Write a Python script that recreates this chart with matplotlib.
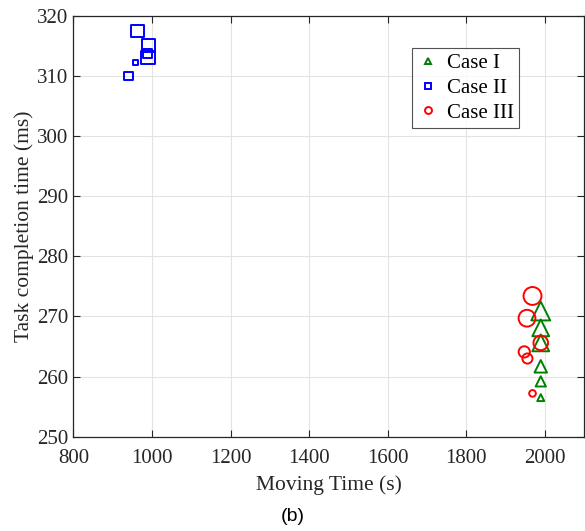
import numpy as np
import matplotlib.pyplot as plt
from matplotlib.lines import Line2D

# moving time (s), task completion time (ms), marker size (pt)
case1_x = [1990, 1990, 1990, 1990, 1990, 1990]
case1_y = [270.9, 268.1, 265.6, 261.7, 259.2, 256.5]
case1_ms = [13.6, 12.1, 12.1, 9.0, 7.4, 5.0]

case2_x = [963, 992, 989, 990, 958, 940]
case2_y = [317.5, 315.1, 313.7, 313.0, 312.2, 310.0]
case2_ms = [8.8, 9.4, 6.5, 9.6, 4.0, 5.9]

case3_x = [1969, 1955, 1990, 1948, 1956, 1969]
case3_y = [273.4, 269.7, 265.6, 264.1, 263.0, 257.2]
case3_ms = [12.9, 12.1, 10.5, 8.1, 7.3, 4.8]

xticks = [800, 1000, 1200, 1400, 1600, 1800, 2000]
yticks = [250, 260, 270, 280, 290, 300, 310, 320]

green = '#008000'
blue = '#0000ff'
red = '#ff0000'
dark = '#262626'

plt.rcParams['font.family'] = ['Liberation Serif', 'DejaVu Serif']

fig = plt.figure(figsize=(5.85, 5.31), dpi=100)
ax = fig.add_axes([0.1256, 0.1776, 0.8726, 0.7928])

lw = 1.4
ax.scatter(case1_x, case1_y, s=np.array(case1_ms)**2, marker='^',
           facecolors='none', edgecolors=green, linewidths=lw, zorder=3)
ax.scatter(case2_x, case2_y, s=np.array(case2_ms)**2, marker='s',
           facecolors='none', edgecolors=blue, linewidths=lw, zorder=3)
ax.scatter(case3_x, case3_y, s=np.array(case3_ms)**2, marker='o',
           facecolors='none', edgecolors=red, linewidths=lw, zorder=3)

ax.set_xlim(800, 2100)
ax.set_ylim(250, 320)
ax.set_xticks(xticks)
ax.set_yticks(yticks)
ax.grid(True, color='#e3e3e3', linewidth=0.8)
ax.set_axisbelow(True)
ax.tick_params(direction='in', top=True, right=True, length=5, width=0.8,
               colors=dark, labelsize=15)
ax.tick_params(axis='x', pad=9)
ax.tick_params(axis='y', pad=4)
for sp in ax.spines.values():
    sp.set_color(dark)
    sp.set_linewidth(0.9)

ax.set_xlabel('Moving Time (s)', fontsize=15.5, color=dark, labelpad=5)
ax.set_ylabel('Task completion time (ms)', fontsize=15.5, color=dark, labelpad=2)

handles = [
    Line2D([], [], ls='none', marker='^', ms=5, mfc='none', mec=green, mew=lw, label='Case I'),
    Line2D([], [], ls='none', marker='s', ms=4, mfc='none', mec=blue, mew=lw, label='Case II'),
    Line2D([], [], ls='none', marker='o', ms=5, mfc='none', mec=red, mew=lw, label='Case III'),
]
leg = ax.legend(handles=handles, loc='upper left', bbox_to_anchor=(0.6625, 0.9226),
                borderaxespad=0, fontsize=15, frameon=True, fancybox=False,
                handlelength=1.1, handletextpad=0.35, labelspacing=0.25,
                borderpad=0.25)
leg.get_frame().set_edgecolor(dark)
leg.get_frame().set_linewidth(0.8)
for t in leg.get_texts():
    t.set_color('black')

fig.text(0.5, 0.027, '(b)', ha='center', va='center', fontsize=14,
         family=['Liberation Sans', 'DejaVu Sans'])

fig.savefig('out.png', dpi=100)
